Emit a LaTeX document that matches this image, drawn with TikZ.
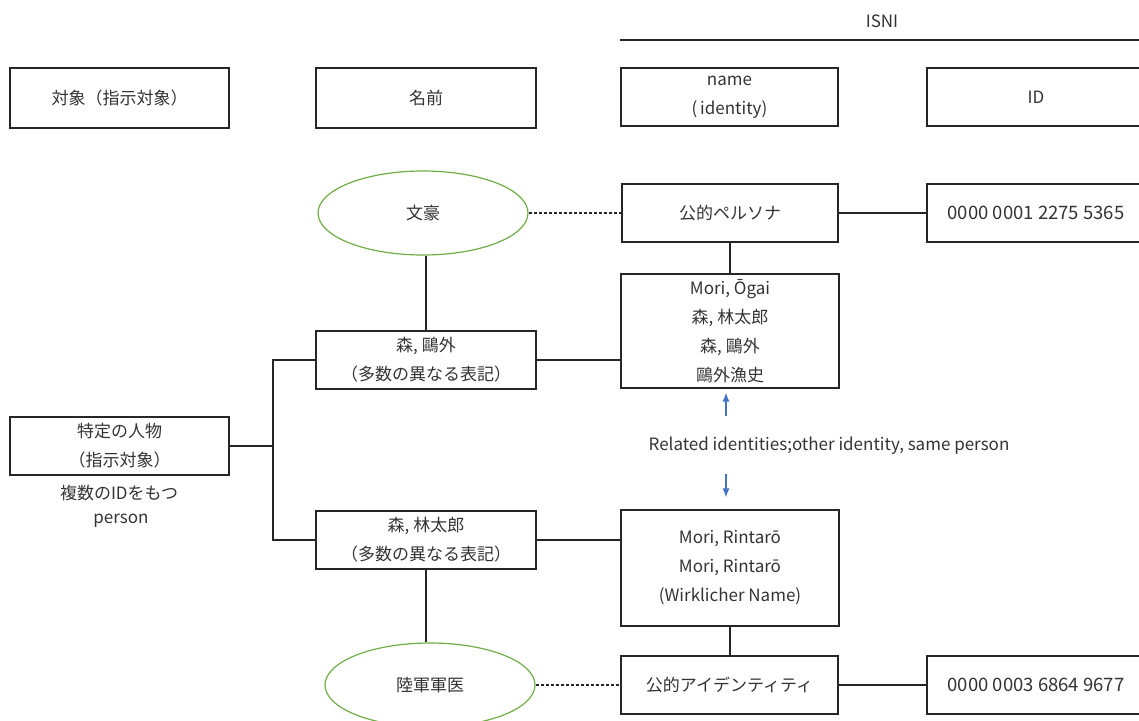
\documentclass[tikz,border=0pt]{standalone}
\usepackage{fontspec}
\setmainfont{Noto Sans CJK JP}
\usetikzlibrary{shapes.geometric,arrows.meta}
\definecolor{txt}{HTML}{333333}
\definecolor{egreen}{HTML}{70AD47}
\definecolor{ablue}{HTML}{4472C4}
\tikzset{
  base/.style={font=\fontsize{17}{29}\selectfont, text=txt, align=center, inner sep=0pt},
  box/.style={base, draw=black!85, line width=1.2pt, rectangle},
  idbox/.style={box, font=\fontsize{18.5}{29}\selectfont},
  oval/.style={base, draw=egreen, line width=1.2pt, ellipse, minimum width=210pt, minimum height=84pt},
  conn/.style={draw=black!85, line width=1.2pt},
  dconn/.style={draw=black!85, line width=1.2pt, dash pattern=on 3.5pt off 1.5pt},
  barrow/.style={draw=ablue, line width=1.3pt, -{Latex[length=9pt,width=7pt]}},
  plain/.style={base}
}
\begin{document}
\begin{tikzpicture}[x=1pt,y=-1pt]
\useasboundingbox (0,0) rectangle (1139,720);
\clip (0,0) rectangle (1139,720);
% header
\node[plain] (isni) at (882,21) {ISNI};
\coordinate (l1) at (620,40);
\coordinate (l2) at (1139,40);
\draw[conn] (l1) -- (l2);
\node[box, minimum width=219pt, minimum height=60pt] (h1) at (119.5,98) {対象（指示対象）};
\node[box, minimum width=220pt, minimum height=60pt] (h2) at (426,98) {名前};
\node[box, minimum width=217pt, minimum height=58pt] (h3) at (729.5,97) {name\\(\,identity)};
\node[box, minimum width=218pt, minimum height=58pt] (h4) at (1036,97) {ID};
% top row
\node[oval] (e1) at (423,213) {文豪};
\node[box, minimum width=216pt, minimum height=58pt] (persona) at (730,213) {公的ペルソナ};
\node[idbox, minimum width=218pt, minimum height=58pt] (id1) at (1036,213) {0000 0001 2275 5365};
\node[box, minimum width=218pt, minimum height=114pt] (ogaiN) at (730,331) {Mori, Ōgai\\森, 林太郎\\森, 鷗外\\鷗外漁史};
\node[box, minimum width=220pt, minimum height=58pt] (ogai) at (426,360) {森, 鷗外\\（多数の異なる表記）};
% person
\node[box, minimum width=219pt, minimum height=58pt] (person) at (119.5,446) {特定の人物\\（指示対象）};
\node[plain] (pl1) at (119,493) {複数のIDをもつ};
\node[plain] (pl2) at (121,521) {person};
\coordinate (j) at (273,446);
% bottom row
\node[box, minimum width=220pt, minimum height=58pt] (rint) at (426,540) {森, 林太郎\\（多数の異なる表記）};
\node[box, minimum width=218pt, minimum height=116pt] (rintN) at (730,568) {Mori, Rintarō\\Mori, Rintarō\\(Wirklicher Name)};
\node[oval] (e2) at (430,685) {陸軍軍医};
\node[box, minimum width=217pt, minimum height=58pt] (pubid) at (729.5,685) {公的アイデンティティ};
\node[idbox, minimum width=218pt, minimum height=58pt] (id2) at (1036,685) {0000 0003 6864 9677};
% related
\node[plain] (rel) at (829,446) {Related identities;other identity, same person};
\coordinate (a1) at (726,416);
\coordinate (a2) at (726,474);
% connectors
\draw[dconn] (e1.east) -- (e1.east -| persona.west);
\draw[conn] (persona.east) -- (id1.west);
\draw[conn] (persona.south) -- (ogaiN.north);
\draw[conn] (ogai.north) -- (ogai.north |- e1.south);
\draw[conn] (ogai.east) -- (ogai.east -| ogaiN.west);
\draw[conn] (person.east) -- (j);
\draw[conn] (j) |- (ogai.west);
\draw[conn] (j) |- (rint.west);
\draw[conn] (rint.east) -- (rint.east -| rintN.west);
\draw[conn] (rint.south) -- (rint.south |- e2.north);
\draw[conn] (rintN.south) -- (rintN.south |- pubid.north);
\draw[dconn] (e2.east) -- (e2.east -| pubid.west);
\draw[conn] (pubid.east) -- (id2.west);
\draw[barrow, shorten >=4pt] (a1) -- (a1 |- ogaiN.south);
\draw[barrow, shorten >=12pt] (a2) -- (a2 |- rintN.north);
\end{tikzpicture}
\end{document}
